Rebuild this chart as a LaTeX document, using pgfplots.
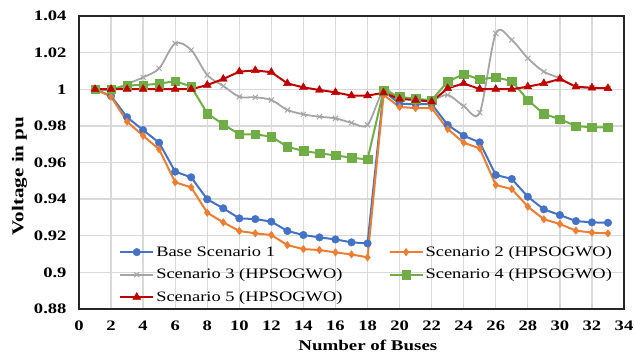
\documentclass[border=0pt]{standalone}
\usepackage{fontspec}
\setmainfont[FakeStretch=1.28]{Liberation Serif}
\usepackage{pgfplots}
\usepackage{pgfplotstable}
\pgfplotsset{compat=1.18}
\definecolor{cblue}{HTML}{4472C4}
\definecolor{corange}{HTML}{ED7D31}
\definecolor{cgray}{HTML}{A5A5A5}
\definecolor{cgreen}{HTML}{70AD47}
\definecolor{cred}{HTML}{C00000}
\definecolor{cgrid}{HTML}{D9D9D9}

\pgfplotstableread{
bus base s2 s3 s4 s5
1 1.000 1.000 1.000 1.000 1.000
2 0.9963 0.9960 0.9995 1.0000 1.0000
3 0.9847 0.9823 1.0029 1.0021 1.0000
4 0.9777 0.9746 1.0065 1.0023 1.0000
5 0.9708 0.9672 1.0114 1.0030 1.0000
6 0.9550 0.9492 1.0251 1.0045 1.0000
7 0.9519 0.9464 1.0214 1.0014 1.0000
8 0.9399 0.9326 1.0078 0.9868 1.0023
9 0.9350 0.9273 1.0018 0.9808 1.0056
10 0.9295 0.9226 0.9959 0.9754 1.0096
11 0.9291 0.9213 0.9956 0.9754 1.0103
12 0.9277 0.9204 0.9941 0.9741 1.0093
13 0.9226 0.9149 0.9887 0.9686 1.0032
14 0.9204 0.9127 0.9863 0.9663 1.0010
15 0.9191 0.9122 0.9850 0.9650 0.9996
16 0.9180 0.9109 0.9841 0.9639 0.9983
17 0.9164 0.9098 0.9817 0.9626 0.9965
18 0.9158 0.9082 0.9805 0.9617 0.9965
19 0.9990 0.9969 0.9992 0.9992 0.9981
20 0.9921 0.9903 0.9950 0.9959 0.9947
21 0.9918 0.9897 0.9948 0.9947 0.9941
22 0.9919 0.9897 0.9940 0.9941 0.9932
23 0.9805 0.9783 0.9969 1.0041 1.0005
24 0.9746 0.9708 0.9908 1.0083 1.0032
25 0.9710 0.9677 0.9872 1.0054 1.0001
26 0.9532 0.9477 1.0305 1.0065 1.0000
27 0.9510 0.9455 1.0269 1.0045 1.0000
28 0.9413 0.9359 1.0169 0.9941 1.0014
29 0.9344 0.9290 1.0096 0.9865 1.0032
30 0.9313 0.9264 1.0060 0.9837 1.0056
31 0.9280 0.9228 1.0014 0.9799 1.0014
32 0.9273 0.9217 1.0008 0.9792 1.0008
33 0.9271 0.9213 1.0005 0.9792 1.0005
}\data

\begin{document}
\begin{tikzpicture}
\begin{axis}[
  name=ax,
  width=545pt, height=293pt, scale only axis,
  xmin=0, xmax=34, ymin=0.88, ymax=1.04,
  xtick={0,2,...,34},
  ytick={0.88,0.9,0.92,0.94,0.96,0.98,1,1.02,1.04},
  grid=major,
  major grid style={cgrid, line width=1.3pt},
  axis line style={black!85, line width=1.3pt},
  major tick length=0pt,
  /pgf/number format/assume math mode=true,
  tick label style={font=\fontsize{14.5}{17}\selectfont\bfseries},
  yticklabel style={xshift=-9pt},
  xticklabel style={yshift=-8.5pt},
  xlabel={Number of Buses},
  ylabel={Voltage in pu},
  xlabel style={font=\fontsize{14.8}{17}\selectfont\bfseries, at={(axis description cs:0.53,-0.1433)}, anchor=base},
  ylabel style={font=\fontsize{16.5}{19}\selectfont\bfseries, at={(axis description cs:-0.1092,0.454)}, anchor=center},
  legend columns=2,
  legend cell align=left,
  legend image code/.code={\draw[mark repeat=2,mark phase=2,#1] plot coordinates {(0pt,0pt) (16.5pt,0pt) (33pt,0pt)};},
  legend style={at={(rel axis cs:0.068,0.228)}, anchor=north west, draw=none, fill=none,
    font=\fontsize{14.4}{16}\selectfont, row sep=7pt,
    /tikz/every even column/.append style={column sep=44pt}},
]
\addplot[cblue, line width=2pt, mark=*, mark size=3.8pt, mark options={solid, fill=cblue, line width=0.4pt}] table[x=bus, y=base] {\data};
\addlegendentry{Base Scenario 1}
\addplot[corange, line width=2pt, mark=diamond*, mark size=3.8pt, mark options={solid, fill=corange, line width=0.4pt}] table[x=bus, y=s2] {\data};
\addlegendentry{Scenario 2 (HPSOGWO)}
\addplot[cgray, line width=1.8pt, smooth, tension=0.5, mark=x, mark size=3.6pt, mark options={solid, line width=1pt}] table[x=bus, y=s3] {\data};
\addlegendentry{Scenario 3 (HPSOGWO)}
\addplot[cgreen, line width=2pt, mark=square*, mark size=4.3pt, mark options={solid, fill=cgreen, line width=0.4pt}] table[x=bus, y=s4] {\data};
\addlegendentry{Scenario 4 (HPSOGWO)}
\addplot[cred, line width=2pt, mark=triangle*, mark size=4.6pt, mark options={solid, fill=cred, line width=0.4pt}] table[x=bus, y=s5] {\data};
\addlegendentry{Scenario 5 (HPSOGWO)}
\end{axis}
\pgfresetboundingbox
\path[use as bounding box] ([xshift=-79pt,yshift=-47pt]ax.south west) rectangle ([xshift=11pt,yshift=16pt]ax.north east);
\end{tikzpicture}
\end{document}
